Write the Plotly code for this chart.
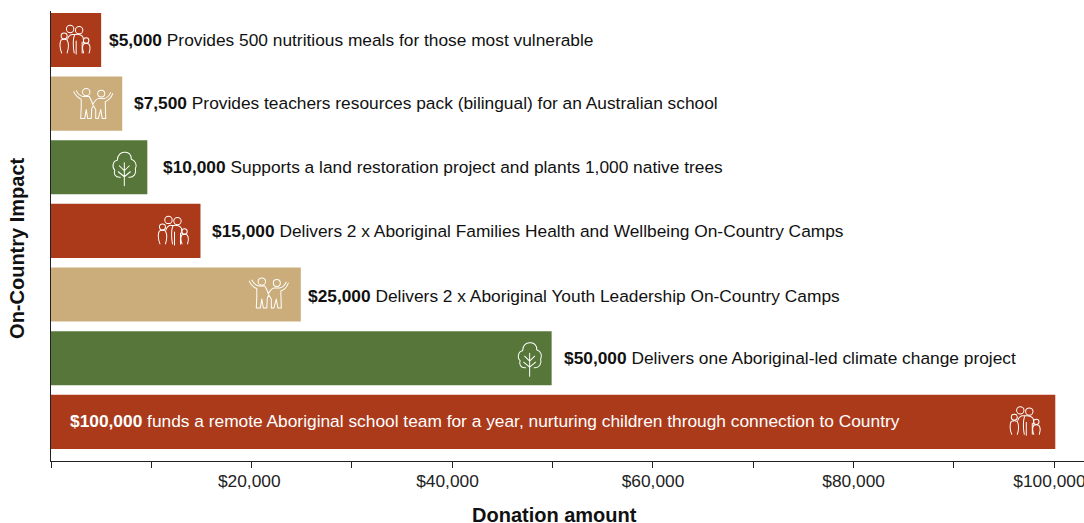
import base64
import plotly.graph_objects as go

FONT = "Liberation Sans"
RED, TAN, GREEN = "#AB3A1B", "#CBAD7C", "#57773A"

amounts = [5000, 7100, 9600, 14900, 24900, 49900, 100100]
amount_labels = ["$5,000", "$7,500", "$10,000", "$15,000", "$25,000", "$50,000", "$100,000"]
descriptions = [
    "Provides 500 nutritious meals for those most vulnerable",
    "Provides teachers resources pack (bilingual) for an Australian school",
    "Supports a land restoration project and plants 1,000 native trees",
    "Delivers 2 x Aboriginal Families Health and Wellbeing On-Country Camps",
    "Delivers 2 x Aboriginal Youth Leadership On-Country Camps",
    "Delivers one Aboriginal-led climate change project",
    "funds a remote Aboriginal school team for a year, nurturing children through connection to Country",
]
kinds = ["family", "kids", "tree", "family", "kids", "tree", "family"]
tick_values = [0, 10000, 20000, 30000, 40000, 50000, 60000, 70000, 80000, 90000, 100000]
tick_labels = ["", "", "$20,000", "", "$40,000", "", "$60,000", "", "$80,000", "", "$100,000"]
# trailing no-break spaces nudge a centred tick label to the left, as in the reference
tick_label_pad = [0, 0, 1, 0, 2, 0, 0, 0, 0, 0, 2]

bar_colors = {"family": RED, "kids": TAN, "tree": GREEN}
label_gap_px = [6, 10, 14, 10, 5, 10, None]
label_rise_px = [0, 1, 0, 0, -1, 0, 1]
icon_back_px = [26, 29, 23, 27, 32, 22, 30]
icon_drop_px = [0, 0, 1, 0, -1.5, 0.5, -0.5]

STYLE = 'fill="none" stroke="#fff" stroke-width="1" stroke-linecap="round" stroke-linejoin="round"'
ICONS = {
    "family": (34, 32, f'''
<circle cx="6" cy="12" r="3"/><circle cx="12" cy="5" r="3.7"/><circle cx="21" cy="6.2" r="3.7"/><circle cx="28" cy="16.5" r="2.7"/>
<path d="M3.5 29 C1.2 24 1.5 18 3 16 Q6 14.8 9 16 C10.5 19 10.6 24 9 29"/>
<path d="M9.5 15 C10 12 13 10 15 10.5 L17 10.5 C20 10 24 11 25 13.5 L25.5 19"/>
<path d="M16.5 11 C14.5 15 15 24 16 29 M18 17 L18 30 M24 18 L24 29"/>
<path d="M25.5 29 C24 25 24 22 25.5 20 Q28 18.8 30.5 20 C32.3 22 32.3 25 31 29"/>'''),
    "kids": (42, 34, f'''
<circle cx="14" cy="5.5" r="3.7"/><circle cx="29" cy="7" r="3.5"/>
<path d="M1.5 5 C3 9 7 12 9 12.5 L9 20 L8.5 32 L12.5 32 L14 23 L15.5 32 L19 32 L19.5 22 L21 19 L23.5 23 L23.5 32 L26 32 L28.5 23 L30 32 L33.5 32 L33 15 C36 14 39 11 40.5 7"/>
<path d="M4 4 C5.5 7 8.5 9.5 11 10 L17 10 C19 13 20 16 20.5 18 C22 15 24 12.5 26 12 L32 12 C35 11.5 37 9 38.5 6"/>'''),
    "tree": (26, 37, f'''
<path d="M13 36 L13 13 M13 21 L8 16 M13 21 L18 16 M13 27 L7 22 M13 27 L19 22"/>
<path d="M9 27.5 C4 28 2 24 3.5 20.5 C0 17 2 11 6 10.5 C6 5 10 2 13.5 2.5 C17 2 20.5 5 20 9.5 C24 10.5 26 15 24 19 C25.5 23.5 22.5 28 17.5 27.5"/>'''),
}


def icon_uri(kind):
    w, h, body = ICONS[kind]
    svg = f'<svg xmlns="http://www.w3.org/2000/svg" width="{w*4}" height="{h*4}" viewBox="0 0 {w} {h}"><g {STYLE}>{body}</g></svg>'
    return "data:image/svg+xml;base64," + base64.b64encode(svg.encode()).decode()


W, H = 1084, 523
L, T, B = 51.3, 11, 461.5
PX_PER_USD = 10.03 / 1000
x_max = (W - L) / PX_PER_USD
y_range = [6.615, -0.455]
PX_PER_CAT = (B - T) / (y_range[0] - y_range[1])

fig = go.Figure(go.Bar(
    x=amounts,
    y=list(range(len(amounts))),
    orientation="h",
    width=0.85,
    marker=dict(color=[bar_colors[k] for k in kinds], line=dict(width=0)),
    hoverinfo="skip",
))

annotations = []
images = []
for i, (amt, lab, desc) in enumerate(zip(amounts, amount_labels, descriptions)):
    last = label_gap_px[i] is None
    annotations.append(dict(
        x=0 if last else amt, y=i, xref="x", yref="y",
        xshift=16.5 if last else label_gap_px[i],
        yshift=label_rise_px[i],
        xanchor="left", yanchor="middle", showarrow=False,
        text=f"<b>{lab}</b> {desc}",
        font=dict(family=FONT, size=17.33, color="#ffffff" if last else "#111111"),
    ))
    w, h, _ = ICONS[kinds[i]]
    images.append(dict(
        source=icon_uri(kinds[i]),
        x=amt - icon_back_px[i] / PX_PER_USD, y=i + icon_drop_px[i] / PX_PER_CAT,
        xref="x", yref="y",
        sizex=w / PX_PER_USD, sizey=h / PX_PER_CAT,
        xanchor="center", yanchor="middle", sizing="stretch", layer="above",
    ))

plot_w, plot_h = W - L, B - T
annotations += [
    dict(text="<b>Donation amount</b>", x=(555 - L) / plot_w, y=1 - (515.5 - T) / plot_h, xref="paper", yref="paper",
         xanchor="center", yanchor="middle", showarrow=False, font=dict(family=FONT, size=20, color="#111111")),
    dict(text="<b>On-Country Impact</b>", x=(17.5 - L) / plot_w, y=1 - (249 - T) / plot_h, xref="paper", yref="paper", textangle=-90,
         xanchor="center", yanchor="middle", showarrow=False, font=dict(family=FONT, size=20, color="#111111")),
]

fig.update_layout(
    width=W, height=H,
    margin=dict(l=L, r=0, t=T, b=H - B, pad=0, autoexpand=False),
    paper_bgcolor="#ffffff", plot_bgcolor="#ffffff",
    showlegend=False,
    annotations=annotations,
    images=images,
    font=dict(family=FONT, color="#222222"),
    xaxis=dict(
        range=[0, x_max], tickmode="array", tickvals=tick_values,
        ticktext=[t + "\u00a0" * p for t, p in zip(tick_labels, tick_label_pad)],
        ticks="outside", ticklen=6, tickwidth=1, tickcolor="#222222",
        showline=True, linecolor="#222222", linewidth=1, showgrid=False, zeroline=False,
        tickfont=dict(family=FONT, size=17.33, color="#222222"), ticklabeloverflow="allow",
        ticklabelstandoff=-2, automargin=False,
    ),
    yaxis=dict(
        range=y_range, tickmode="array", tickvals=[], showticklabels=False, ticks="",
        showline=True, linecolor="#222222", linewidth=1, showgrid=False, zeroline=False,
        automargin=False,
    ),
)

fig.write_html("out.html", config=dict(displayModeBar=False),
               post_script="document.body.style.margin='0';document.body.style.overflow='hidden';")
